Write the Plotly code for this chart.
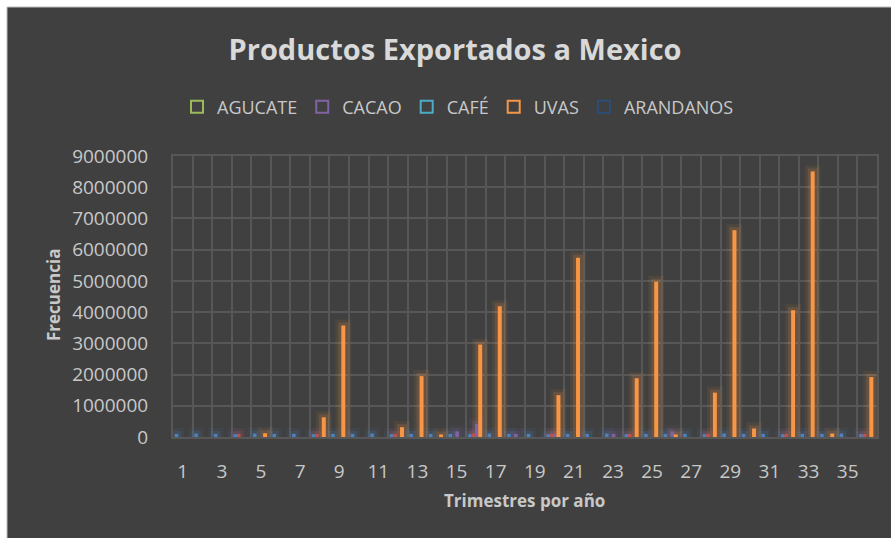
import plotly.graph_objects as go

# ---------------- data ----------------
trimestres = list(range(1, 37))
tick_labels = ["1", "3", "5", "7", "9", "11", "13", "15", "17", "19", "21", "23",
               "25", "27", "29", "31", "33", "35"]
tick_positions = [1, 3, 5, 7, 9, 11, 13, 15, 17, 19, 21, 23, 25, 27, 29, 31, 33, 35]

series_names = ["AGUCATE", "CACAO", "CAFÉ", "UVAS", "ARANDANOS"]

agucate = [100000, 110000, 100000, 90000, 110000, 100000, 100000, 90000, 100000,
           100000, 110000, 90000, 100000, 100000, 100000, 90000, 110000, 100000,
           100000, 90000, 100000, 100000, 110000, 90000, 100000, 100000, 100000,
           90000, 110000, 100000, 100000, 90000, 100000, 100000, 110000, 90000]
cacao = [0, 0, 0, 100000, 0, 0, 0, 100000, 0,
         0, 0, 100000, 0, 0, 0, 110000, 0, 0,
         0, 100000, 0, 0, 0, 100000, 0, 0, 0,
         100000, 0, 0, 0, 100000, 0, 0, 0, 100000]
cafe = [0, 0, 0, 0, 0, 0, 0, 0, 0,
        0, 0, 0, 0, 0, 180000, 420000, 0, 100000,
        0, 100000, 0, 0, 100000, 0, 0, 180000, 0,
        0, 0, 0, 0, 0, 0, 0, 0, 0]
uvas = [0, 0, 0, 0, 120000, 0, 0, 630000, 3570000,
        0, 0, 315000, 1950000, 80000, 0, 2960000, 4190000, 0,
        0, 1340000, 5740000, 0, 0, 1880000, 4970000, 80000, 0,
        1420000, 6620000, 270000, 0, 4060000, 8500000, 110000, 0, 1920000]
arandanos = [0, 0, 0, 0, 0, 0, 0, 0, 0,
             0, 0, 0, 0, 0, 0, 0, 0, 0,
             0, 0, 0, 0, 0, 0, 0, 0, 0,
             0, 0, 0, 0, 0, 0, 0, 0, 0]

# ---------------- styles ----------------
bar_colors = ["#4F81BD", "#C0504D", "#8064A2", "#F79646", "#2C4D75"]
legend_colors = ["#9BBB59", "#8064A2", "#4BACC6", "#F79646", "#2C4D75"]
bar_offsets = [-0.41, -0.23, -0.06, 0.11, 0.29]
bar_widths = [0.18, 0.18, 0.18, 0.2, 0.18]

BG = "#404040"
GRID = "#575757"
TXT = "#C8C8C8"
TITLE_TXT = "#D9D9D9"
FONT = "Open Sans"


def rgba(hex_color, a):
    h = hex_color.lstrip("#")
    r, g, b = int(h[0:2], 16), int(h[2:4], 16), int(h[4:6], 16)
    return f"rgba({r},{g},{b},{a})"


all_series = [agucate, cacao, cafe, uvas, arandanos]

fig = go.Figure()

# glow layers (drawn first, behind the bars)
for vals, col, off, w in zip(all_series, bar_colors, bar_offsets, bar_widths):
    yv = [v if v > 0 else None for v in vals]
    for lw, a in [(12, 0.08), (6, 0.16)]:
        fig.add_trace(go.Bar(
            x=trimestres, y=yv, offset=off, width=w,
            marker=dict(color=rgba(col, a), line=dict(color=rgba(col, a), width=lw)),
            showlegend=False, hoverinfo="skip"))

# actual bars
for name, vals, col, off, w in zip(series_names, all_series, bar_colors, bar_offsets, bar_widths):
    fig.add_trace(go.Bar(
        x=trimestres, y=vals, name=name, offset=off, width=w,
        marker=dict(color=col, line=dict(width=0)),
        showlegend=False))

# legend entries (hollow squares as in the reference)
for name, col in zip(series_names, legend_colors):
    fig.add_trace(go.Bar(
        x=[None], y=[None], name=name,
        marker=dict(color=BG, line=dict(color=col, width=2)),
        showlegend=True))

L, R, T, B = 173, 14, 156, 101
W, H = 891, 538
pw, ph = W - L - R, H - T - B


def px_x(px):
    return (px - L) / pw


def px_y(py):
    return (H - B - py) / ph


fig.add_shape(type="rect", xref="paper", yref="paper",
              x0=px_x(7), x1=px_x(W + 5), y0=px_y(H + 5), y1=px_y(7),
              fillcolor=BG, line=dict(color="#BFBFBF", width=1), layer="below")

fig.update_layout(
    width=W, height=H, autosize=False,
    margin=dict(l=L, r=R, t=T, b=B),
    paper_bgcolor="#FFFFFF", plot_bgcolor=BG,
    barmode="overlay",
    font=dict(family=FONT, color=TXT),
    title=dict(text="Productos Exportados a Mexico", x=455 / W, xanchor="center",
               y=1 - 50 / H, yanchor="middle",
               font=dict(family=FONT, size=29, color=TITLE_TXT, weight="bold")),
    legend=dict(orientation="h", x=px_x(458), xanchor="center", y=px_y(107), yanchor="middle",
                font=dict(family=FONT, size=18, color=TXT), bgcolor="rgba(0,0,0,0)",
                itemwidth=30, traceorder="normal"),
    showlegend=True,
    xaxis=dict(range=[0.5, 36.5], tickmode="array", tickvals=tick_positions, ticktext=tick_labels,
               showgrid=False, zeroline=False, showline=True, linecolor=GRID, linewidth=2, mirror=True,
               ticks="outside", ticklen=16, tickcolor="rgba(0,0,0,0)",
               tickfont=dict(family=FONT, size=19, color=TXT),
               minor=dict(tickmode="array", tickvals=[t + 0.5 for t in [0] + trimestres],
                          showgrid=True, gridcolor=GRID, gridwidth=2, ticks="")),
    yaxis=dict(range=[0, 9000000], dtick=1000000, tick0=0, tickformat="d",
               showgrid=True, gridcolor=GRID, gridwidth=2, zeroline=False,
               showline=True, linecolor=GRID, linewidth=2, mirror=True,
               ticks="", ticklabelstandoff=19,
               tickfont=dict(family=FONT, size=19, color=TXT)),
    annotations=[
        dict(text="Frecuencia", xref="paper", yref="paper", x=px_x(53), y=px_y(295),
             xanchor="center", yanchor="middle", textangle=-90, showarrow=False,
             font=dict(family=FONT, size=17, color=TXT, weight="bold")),
        dict(text="Trimestres por año", xref="paper", yref="paper", x=px_x(524), y=px_y(500),
             xanchor="center", yanchor="middle", showarrow=False,
             font=dict(family=FONT, size=17, color=TXT, weight="bold")),
    ],
)

fig.write_html("out.html")
